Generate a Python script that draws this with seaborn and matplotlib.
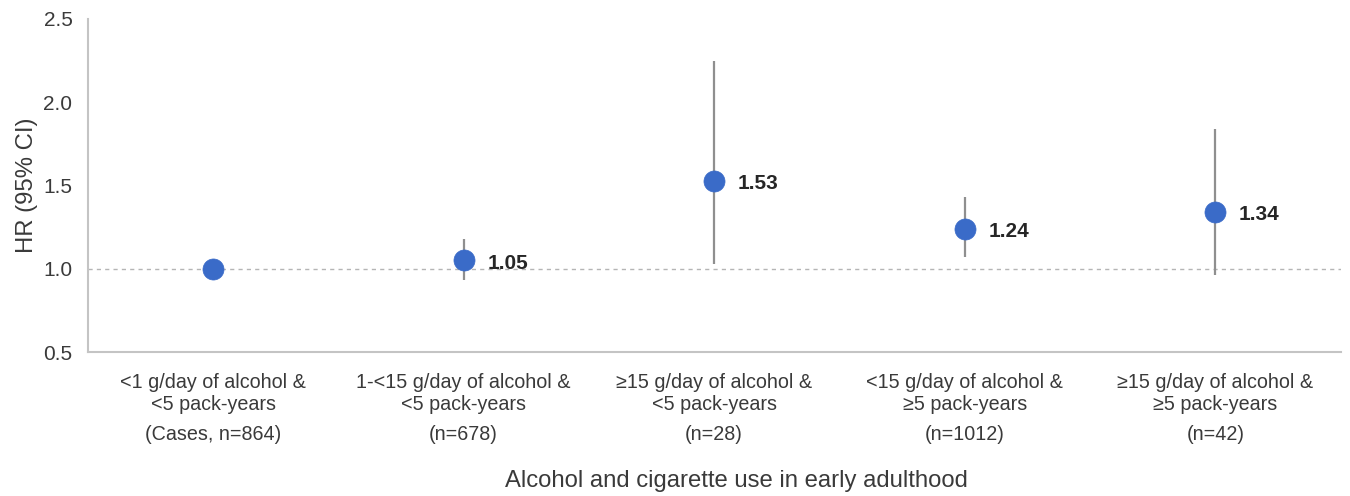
import matplotlib
matplotlib.use("Agg")
import matplotlib.pyplot as plt
from matplotlib.ticker import FixedLocator, NullFormatter
import seaborn as sns
import pandas as pd

# Exposure groups (alcohol and cigarette use in early adulthood)
groups = [
    "<1 g/day of alcohol &\n<5 pack-years",
    "1-<15 g/day of alcohol &\n<5 pack-years",
    "\u226515 g/day of alcohol &\n<5 pack-years",
    "<15 g/day of alcohol &\n\u22655 pack-years",
    "\u226515 g/day of alcohol &\n\u22655 pack-years",
]
case_counts = ["(Cases, n=864)", "(n=678)", "(n=28)", "(n=1012)", "(n=42)"]
hr = [1.00, 1.05, 1.53, 1.24, 1.34]
ci_low = [None, 0.93, 1.03, 1.07, 0.96]
ci_high = [None, 1.18, 2.25, 1.43, 1.84]
hr_labels = [None, "1.05", "1.53", "1.24", "1.34"]

df = pd.DataFrame({"group": groups, "hr": hr})

sns.set_theme(style="white")
plt.rcParams["font.family"] = ["Liberation Sans", "DejaVu Sans"]

fig = plt.figure(figsize=(13.5, 4.96), dpi=100)
ax = fig.add_axes([0.065, 0.290, 0.928, 0.672])

point_color = "#3a6bc8"
grid_grey = "#c4c4c4"
text_grey = "#3a3a3a"

# Reference line at HR = 1
ax.axhline(1.0, color="#b5b5b5", lw=1.0, ls=(0, (3, 3)), zorder=1)

# Confidence intervals
for i, (lo, hi) in enumerate(zip(ci_low, ci_high)):
    if lo is not None:
        ax.vlines(i, lo, hi, color="#8f8f8f", lw=1.6, zorder=2)

sns.scatterplot(data=df, x="group", y="hr", ax=ax, color=point_color,
                s=230, edgecolor=point_color, linewidth=0.5, zorder=3)

for i, lab in enumerate(hr_labels):
    if lab is not None:
        ax.annotate(lab, (i, hr[i]), xytext=(17, -2), textcoords="offset points",
                    ha="left", va="center", fontsize=15, fontweight="bold",
                    color="#262626")

ax.set_xlim(-0.5, len(groups) - 0.5)
ax.set_ylim(0.5, 2.5)
ax.set_yticks([0.5, 1.0, 1.5, 2.0, 2.5])
ax.set_yticklabels(["0.5", "1.0", "1.5", "2.0", "2.5"])

# Category labels centred between boundary ticks
ax.xaxis.set_major_locator(FixedLocator([i - 0.5 for i in range(len(groups) + 1)]))
ax.xaxis.set_major_formatter(NullFormatter())
ax.xaxis.set_minor_locator(FixedLocator(list(range(len(groups)))))
ax.set_xticklabels(groups, minor=True)
ax.tick_params(axis="x", which="minor", length=0, pad=15, labelsize=14.2,
               labelcolor=text_grey)
ax.tick_params(axis="x", which="major", length=6, width=1, color=grid_grey,
               direction="out")
for lab in ax.get_xticklabels(minor=True):
    lab.set_linespacing(1.2)
for i, n in enumerate(case_counts):
    ax.annotate(n, (i, 0), xycoords=("data", "axes fraction"), xytext=(0, -59.5),
                textcoords="offset points", ha="center", va="center",
                fontsize=14.2, color=text_grey)

ax.tick_params(axis="y", length=5, width=1, color=grid_grey, direction="out",
               labelsize=15, labelcolor=text_grey, pad=6)
ax.set_xlabel("Alcohol and cigarette use in early adulthood", fontsize=17.2,
              color=text_grey)
ax.xaxis.set_label_coords(0.518, -0.387)
ax.xaxis.label.set_verticalalignment("center")
ax.set_ylabel("HR (95% CI)", fontsize=17.2, color=text_grey, labelpad=4)

for side in ["top", "right"]:
    ax.spines[side].set_visible(False)
for side in ["left", "bottom"]:
    ax.spines[side].set_color(grid_grey)
    ax.spines[side].set_linewidth(1.5)

fig.savefig("out.png", dpi=100)
